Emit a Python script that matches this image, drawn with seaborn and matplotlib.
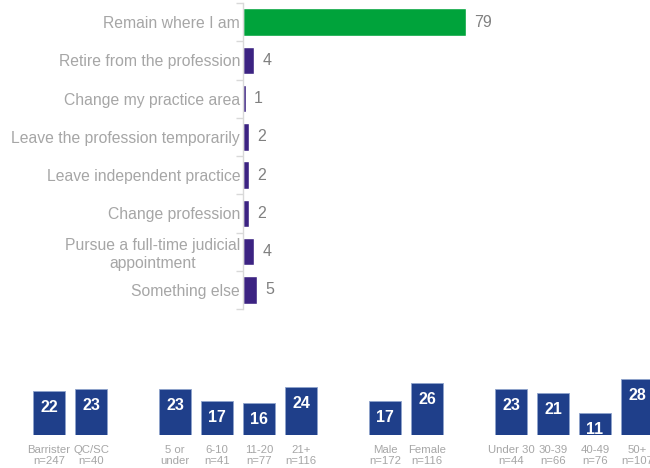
import numpy as np
import pandas as pd
import matplotlib
matplotlib.use("Agg")
import matplotlib.pyplot as plt
import seaborn as sns

# Intentions over the next few years (%)
intentions = [
    "Remain where I am",
    "Retire from the profession",
    "Change my practice area",
    "Leave the profession temporarily",
    "Leave independent practice",
    "Change profession",
    "Pursue a full-time judicial\nappointment",
    "Something else",
]
intention_pct = [79, 4, 1, 2, 2, 2, 4, 5]

# "Leave" share by subgroup (%), four groups
status_labels = ["Barrister\nn=247", "QC/SC\nn=40"]
status_pct = [22, 23]
years_labels = ["5 or\nunder", "6-10\nn=41", "11-20\nn=77", "21+\nn=116"]
years_pct = [23, 17, 16, 24]
gender_labels = ["Male\nn=172", "Female\nn=116"]
gender_pct = [17, 26]
age_labels = ["Under 30\nn=44", "30-39\nn=66", "40-49\nn=76", "50+\nn=107"]
age_pct = [23, 21, 11, 28]

GREEN = "#00A33B"
PURPLE = "#3C2382"
NAVY = "#1F3F8A"
LABEL_GREY = "#A6A6A6"
VALUE_GREY = "#808080"

sns.set_theme(style="white")
plt.rcParams["font.family"] = ["Liberation Sans", "DejaVu Sans"]

W, H = 650, 468
fig = plt.figure(figsize=(W / 100, H / 100), dpi=100)

# ---- top: horizontal bars ----
ax = fig.add_axes([243 / W, (H - 309) / H, (W - 243) / W, 306 / H])
df_top = pd.DataFrame({"intention": intentions, "pct": intention_pct})
palette = {c: (GREEN if i == 0 else PURPLE) for i, c in enumerate(intentions)}
sns.barplot(data=df_top, x="pct", y="intention", hue="intention", palette=palette,
            legend=False, width=0.72, orient="h", ax=ax, saturation=1)
ax.set_xlim(0, (W - 243) / 2.82)
ax.set_ylim(len(intentions) - 0.5, -0.5)
ax.set_xlabel("")
ax.set_ylabel("")
ax.set_xticks([])
for s in ["top", "right", "bottom"]:
    ax.spines[s].set_visible(False)
ax.spines["left"].set_color("#D9D9D9")
ax.spines["left"].set_linewidth(1.0)
ax.set_yticks(range(len(intentions)))
ax.set_yticklabels(intentions, fontsize=11.3, color=LABEL_GREY)
for t in ax.get_yticklabels():
    t.set_multialignment("center")
ax.set_yticks(np.arange(-0.5, len(intentions), 1), minor=True)
ax.tick_params(axis="y", which="major", length=0, pad=2)
ax.tick_params(axis="y", which="minor", length=5, color="#D9D9D9", width=1, left=True)
for i, v in enumerate(intention_pct):
    ax.annotate(str(v), (v, i), xytext=(6, 0), textcoords="offset points",
                va="center", ha="left", fontsize=11.5, color=VALUE_GREY)

# ---- bottom: subgroup columns ----
groups = [(status_labels, status_pct), (years_labels, years_pct),
          (gender_labels, gender_pct), (age_labels, age_pct)]
pos, labels, vals = [], [], []
slot = 0
for lab, val in groups:
    for l, v in zip(lab, val):
        pos.append(slot)
        labels.append(l)
        vals.append(v)
        slot += 1
    slot += 1

ax2 = fig.add_axes([0, (H - 435) / H, 1, 65 / H])
df_bot = pd.DataFrame({"pos": pos, "pct": vals})
sns.barplot(data=df_bot, x="pos", y="pct", native_scale=True, color=NAVY,
            saturation=1, width=0.78, edgecolor="#8FA3CC", linewidth=0.6, ax=ax2)
ax2.set_xlim(-49 / 42, (W - 49) / 42)
ax2.set_ylim(0, 32.5)
ax2.set_xlabel("")
ax2.set_ylabel("")
ax2.set_yticks([])
ax2.set_xticks(pos)
ax2.set_xticklabels(labels, fontsize=8.2, color=LABEL_GREY, linespacing=1.15)
ax2.tick_params(axis="x", length=0, pad=7)
for s in ax2.spines.values():
    s.set_visible(False)
ax2.patch.set_alpha(0)
for p, v in zip(pos, vals):
    ax2.text(p, v - 10.5, str(v), ha="center", va="baseline", fontsize=11.5,
             fontweight="bold", color="white", clip_on=True)

fig.savefig("out.png", dpi=100)
